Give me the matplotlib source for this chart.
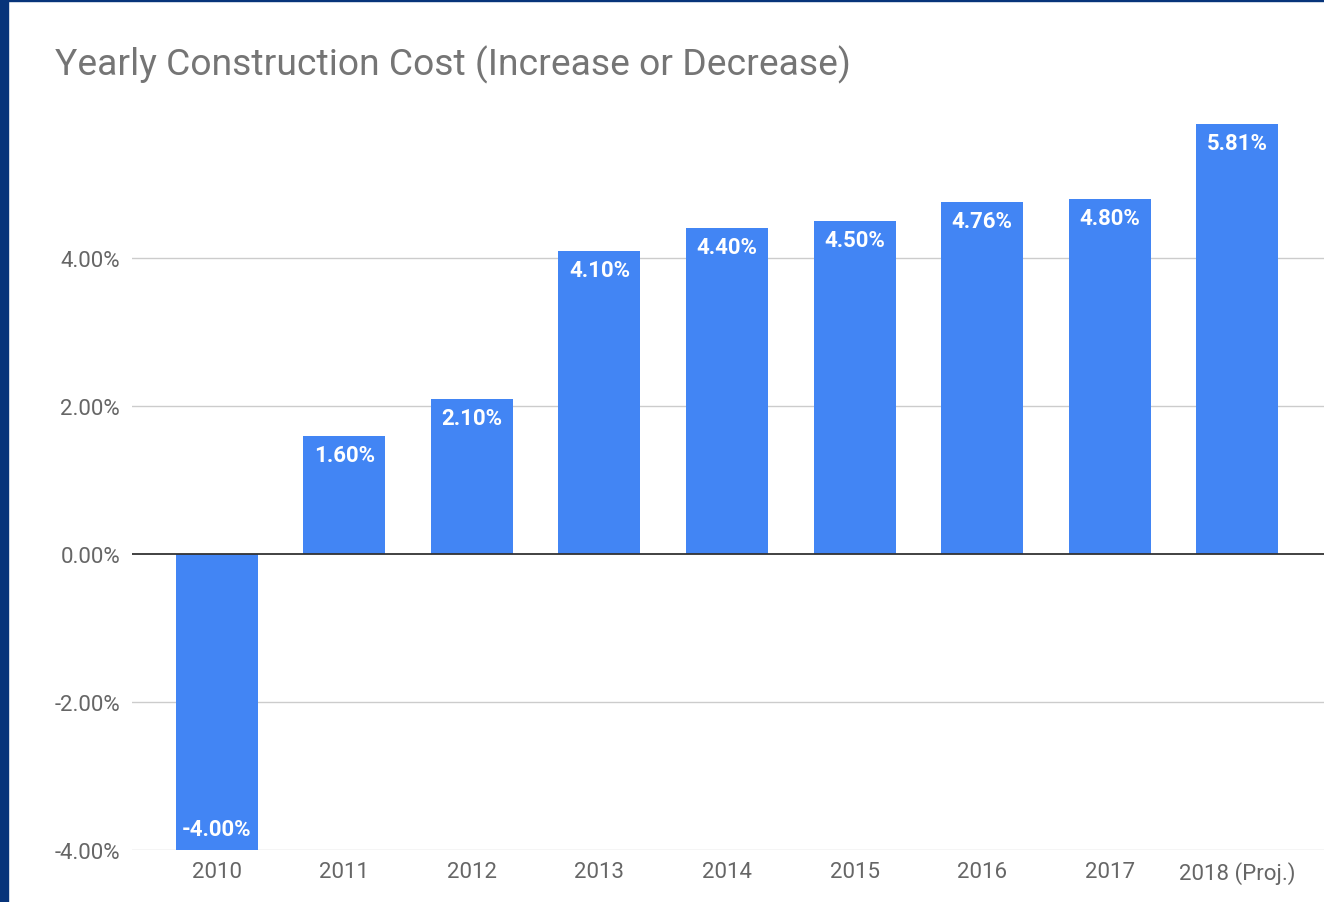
import matplotlib.pyplot as plt
from matplotlib.patches import Rectangle

years = ["2010", "2011", "2012", "2013", "2014", "2015", "2016", "2017", "2018 (Proj.)"]
changes = [-4.00, 1.60, 2.10, 4.10, 4.40, 4.50, 4.76, 4.80, 5.81]
y_ticks = [-4, -2, 0, 2, 4]

plt.rcParams["font.family"] = ["Roboto", "DejaVu Sans"]

fig = plt.figure(figsize=(13.24, 9.03), dpi=100)
fig.patch.set_facecolor("white")

# dark blue frame on the left and top edges of the screenshot
fig.patches.append(Rectangle((0, 0), 8 / 1324, 1, transform=fig.transFigure,
                             color="#07347a", zorder=10))
fig.patches.append(Rectangle((0, 1 - 2 / 903), 1, 2 / 903, transform=fig.transFigure,
                             color="#07347a", zorder=10))

ax = fig.add_axes([132 / 1324, 52 / 903, 1192 / 1324, 740 / 903])
x = list(range(len(years)))
ax.bar(x, changes, width=0.643, color="#4285f4", zorder=3)

for xi, v in zip(x, changes):
    if v >= 0:
        ax.annotate(f"{v:.2f}%", (xi, v), xytext=(0, -19), textcoords="offset pixels",
                    ha="center", va="center", color="white", fontsize=16,
                    fontweight="bold", zorder=4)
    else:
        ax.annotate(f"{v:.2f}%", (xi, v), xytext=(0, 21), textcoords="offset pixels",
                    ha="center", va="center", color="white", fontsize=16,
                    fontweight="bold", zorder=4)

ax.set_xlim(-0.665, 8.68)
ax.set_ylim(-4, 6)
ax.set_yticks(y_ticks)
ax.set_yticklabels([f"{t:.2f}%" for t in y_ticks])
ax.set_xticks(x)
ax.set_xticklabels(years)
ax.tick_params(axis="both", length=0, labelsize=16, labelcolor="#666666")
ax.tick_params(axis="y", pad=8.5)
ax.tick_params(axis="x", pad=8)

for t in y_ticks:
    if t == 0:
        ax.axhline(t, color="#333333", linewidth=1.3, zorder=5)
    else:
        ax.axhline(t, color="#cccccc", linewidth=1.0, zorder=1)

for s in ax.spines.values():
    s.set_visible(False)

fig.text(55 / 1324, 1 - 65 / 903, "Yearly Construction Cost (Increase or Decrease)",
         ha="left", va="center", fontsize=26.8, color="#757575")

fig.savefig("out.png", dpi=100)
plt.close(fig)
